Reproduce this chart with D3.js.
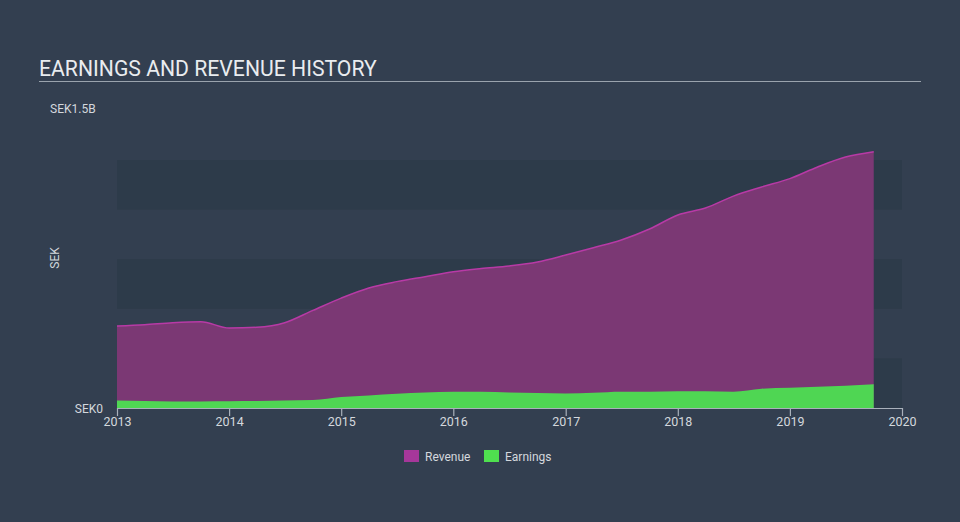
<!DOCTYPE html>
<html>
<head>
<meta charset="utf-8">
<script src="https://cdn.jsdelivr.net/npm/d3@7/dist/d3.min.js"></script>
<style>
  html, body { margin: 0; padding: 0; background: #333f50; }
  svg { display: block; font-family: Roboto, "Open Sans", sans-serif; }
</style>
</head>
<body>
<svg id="chart" width="960" height="522"></svg>
<script>
// ---- data ----
const dates = [
  "2013-01-01","2013-04-01","2013-07-01","2013-10-01",
  "2014-01-01","2014-04-01","2014-07-01","2014-10-01",
  "2015-01-01","2015-04-01","2015-07-01","2015-10-01",
  "2016-01-01","2016-04-01","2016-07-01","2016-10-01",
  "2017-01-01","2017-04-01","2017-07-01","2017-10-01",
  "2018-01-01","2018-04-01","2018-07-01","2018-10-01",
  "2019-01-01","2019-04-01","2019-07-01","2019-10-01"
];
// millions SEK
const revenue = [
  413, 420, 430, 435,
  403, 407, 430, 492,
  554, 605, 637, 662,
  687, 703, 716, 736,
  771, 808, 847, 902,
  973, 1008, 1068, 1114,
  1156, 1215, 1265, 1292
];
const earnings = [
  38, 35, 33, 33,
  34, 35, 38, 40,
  55, 63, 72, 78,
  82, 82, 78, 75,
  73, 77, 82, 82,
  85, 85, 82, 97,
  102, 107, 112, 120
];
const xTickYears = [2013, 2014, 2015, 2016, 2017, 2018, 2019, 2020];
const yMaxLabel = "SEK1.5B";
const yZeroLabel = "SEK0";
const yUnitLabel = "SEK";
const seriesNames = ["Revenue", "Earnings"];
const bandEdges = [0, 250, 500, 750, 1000, 1250];

// ---- setup ----
const svg = d3.select("#chart");
const parse = d3.timeParse("%Y-%m-%d");
const rows = dates.map((d, i) => ({ date: parse(d), rev: revenue[i], earn: earnings[i] }));

const x = d3.scaleTime()
  .domain([new Date(2013, 0, 1), new Date(2020, 0, 1)])
  .range([117, 902]);
const y = d3.scaleLinear().domain([0, 1500]).range([408, 110.4]);

// title
svg.append("text")
  .attr("x", 39).attr("y", 76)
  .attr("fill", "#e9ecef")
  .attr("font-size", 21.2)
  .text("EARNINGS AND REVENUE HISTORY");
svg.append("line")
  .attr("x1", 39).attr("x2", 921).attr("y1", 81.5).attr("y2", 81.5)
  .attr("stroke", "#9aa3ad").attr("stroke-width", 1.2);

// bands
for (let i = 0; i < bandEdges.length - 1; i++) {
  if (i % 2 === 0) {
    svg.append("rect")
      .attr("x", x.range()[0])
      .attr("width", x.range()[1] - x.range()[0])
      .attr("y", y(bandEdges[i + 1]))
      .attr("height", y(bandEdges[i]) - y(bandEdges[i + 1]))
      .attr("fill", "#2d3b4a");
  }
}

// areas
const curve = d3.curveMonotoneX;
const revArea = d3.area().x(d => x(d.date)).y0(y(0)).y1(d => y(d.rev)).curve(curve);
const revLine = d3.line().x(d => x(d.date)).y(d => y(d.rev)).curve(curve);
const earnArea = d3.area().x(d => x(d.date)).y0(y(0)).y1(d => y(d.earn)).curve(curve);

svg.append("path").datum(rows).attr("d", revArea).attr("fill", "#7b3874");
svg.append("path").datum(rows).attr("d", revLine)
  .attr("fill", "none").attr("stroke", "#b83aa6").attr("stroke-width", 1.5);
svg.append("path").datum(rows).attr("d", earnArea).attr("fill", "#4fd653");

// x axis
const xAxis = d3.axisBottom(x)
  .tickValues(xTickYears.map(yr => new Date(yr, 0, 1)))
  .tickFormat(d3.timeFormat("%Y"))
  .tickSizeInner(8).tickSizeOuter(0);
const gx = svg.append("g").attr("transform", `translate(0,${y(0)})`).call(xAxis);
gx.select(".domain").attr("stroke", "#a9b1bb").attr("stroke-width", 1.2);
gx.selectAll(".tick line").attr("stroke", "#a9b1bb").attr("stroke-width", 1.2);
gx.selectAll(".tick text")
  .attr("fill", "#d4d8dd").attr("font-size", 12.5)
  .attr("font-family", "Roboto, sans-serif")
  .attr("dy", null).attr("y", 18);

// y labels
svg.append("text").attr("x", 50).attr("y", 113)
  .attr("fill", "#d4d8dd").attr("font-size", 12).text(yMaxLabel);
svg.append("text").attr("x", 103).attr("y", 412.5).attr("text-anchor", "end")
  .attr("fill", "#d4d8dd").attr("font-size", 12).text(yZeroLabel);
svg.append("text")
  .attr("transform", "translate(59,258) rotate(-90)")
  .attr("text-anchor", "middle")
  .attr("fill", "#d4d8dd").attr("font-size", 12).text(yUnitLabel);

// legend
const legendColors = ["#a6379a", "#4fe04f"];
const legendX = [404, 484];
seriesNames.forEach((name, i) => {
  svg.append("rect").attr("x", legendX[i]).attr("y", 450)
    .attr("width", 15).attr("height", 12).attr("fill", legendColors[i]);
  svg.append("text").attr("x", legendX[i] + 21).attr("y", 460.5)
    .attr("fill", "#d4d8dd").attr("font-size", 12).text(name);
});
</script>
</body>
</html>
